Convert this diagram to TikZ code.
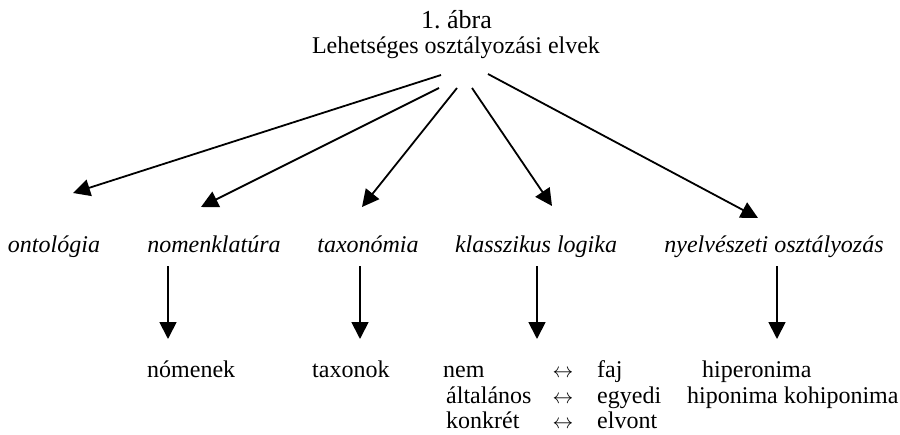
\documentclass[tikz,border=0pt]{standalone}
\usepackage{fontspec}
\setmainfont{Liberation Serif}
\usetikzlibrary{arrows.meta}
\begin{document}
\begin{tikzpicture}[x=1pt,y=-1pt,
  txt/.style={inner sep=0pt,font=\fontsize{24}{28}\selectfont},
  lab/.style={inner sep=0pt,font=\fontsize{24}{28}\selectfont\itshape,anchor=base},
  dbl/.style={inner sep=0pt,font=\fontsize{22}{24}\selectfont,anchor=base},
  arr/.style={line width=1.8pt,-{Triangle[length=17pt,width=17pt]}}]
\useasboundingbox (0,0) rectangle (900,434);
% title
\node[inner sep=0pt,anchor=base west,font=\fontsize{26}{28}\selectfont] (num) at (421,28) {1.\ ábra};
\node[txt,anchor=base] (title) at (456,53) {Lehetséges osztályozási elvek};
% start points of the arrows
\coordinate (s1) at (441,75);
\coordinate (s2) at (439,88);
\coordinate (s3) at (457,88);
\coordinate (s4) at (472,88);
\coordinate (s5) at (488,74);
% categories
\node[lab] (ont) at (54,252) {ontológia};
\node[lab] (nom) at (214,252) {nomenklatúra};
\node[lab] (tax) at (368,252) {taxonómia};
\node[lab] (kla) at (536,252) {klasszikus logika};
\node[lab] (nye) at (774,252) {nyelvészeti osztályozás};
% arrow tips
\coordinate (e1) at (73,193);
\coordinate (e2) at (201,207);
\coordinate (e3) at (362,207);
\coordinate (e4) at (552,206);
\coordinate (e5) at (758,218);
\draw[arr] (s1) -- (e1);
\draw[arr] (s2) -- (e2);
\draw[arr] (s3) -- (e3);
\draw[arr] (s4) -- (e4);
\draw[arr] (s5) -- (e5);
% vertical arrows
\coordinate (v2a) at (168,266); \coordinate (v2b) at (168,339);
\coordinate (v3a) at (360,266); \coordinate (v3b) at (360,339);
\coordinate (v4a) at (537,266); \coordinate (v4b) at (537,339);
\coordinate (v5a) at (777,266); \coordinate (v5b) at (777,339);
\draw[arr] (v2a) -- (v2b);
\draw[arr] (v3a) -- (v3b);
\draw[arr] (v4a) -- (v4b);
\draw[arr] (v5a) -- (v5b);
% results
\node[txt,anchor=base west] (nomen) at (147,377) {nómenek};
\node[txt,anchor=base west] (taxon) at (312,377) {taxonok};
\node[txt,anchor=base west] (r1a) at (443,377) {nem};
\node[dbl] (r1b) at (563,377) {$\leftrightarrow$};
\node[txt,anchor=base west] (r1c) at (597,377) {faj};
\node[txt,anchor=base west] (r2a) at (446,403) {általános};
\node[dbl] (r2b) at (563,403) {$\leftrightarrow$};
\node[txt,anchor=base west] (r2c) at (597,403) {egyedi};
\node[txt,anchor=base west] (r3a) at (446,428.5) {konkrét};
\node[dbl] (r3b) at (563,428.5) {$\leftrightarrow$};
\node[txt,anchor=base west] (r3c) at (597,428.5) {elvont};
\node[txt,anchor=base west] (hiper) at (702,377) {hiperonima};
\node[txt,anchor=base west] (hipo) at (687,403) {hiponima kohiponima};
\end{tikzpicture}
\end{document}
